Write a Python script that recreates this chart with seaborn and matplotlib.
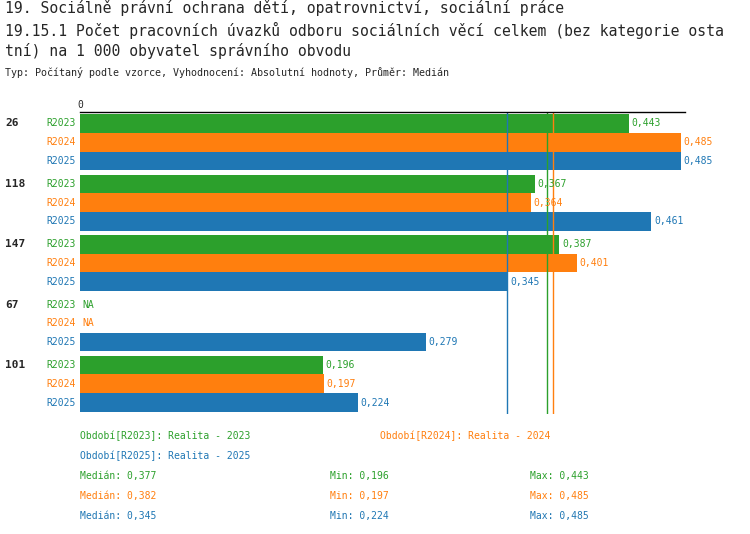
import numpy as np
import pandas as pd
import seaborn as sns
import matplotlib
matplotlib.use('Agg')
import matplotlib.pyplot as plt

groups = ['26', '118', '147', '67', '101']
periods = ['R2023', 'R2024', 'R2025']
v2023 = [0.443, 0.367, 0.387, np.nan, 0.196]
v2024 = [0.485, 0.364, 0.401, np.nan, 0.197]
v2025 = [0.485, 0.461, 0.345, 0.279, 0.224]
medians = [0.377, 0.382, 0.345]
mins = [0.196, 0.197, 0.224]
maxs = [0.443, 0.485, 0.485]
colors = ['#2ca02c', '#ff7f0e', '#1f77b4']

rows = []
for i, g in enumerate(groups):
    for p, vals in zip(periods, [v2023, v2024, v2025]):
        rows.append({'group': g, 'period': p, 'value': vals[i]})
df = pd.DataFrame(rows)

sns.set_style('white')
plt.rcParams['font.family'] = ['DejaVu Sans Mono']

fig = plt.figure(figsize=(7.5, 5.34), dpi=100)
ax = fig.add_axes([80 / 750, 1 - 414 / 534, 605 / 750, 302 / 534])
sns.barplot(data=df, y='group', x='value', hue='period', order=groups,
            hue_order=periods, palette=colors, orient='h', dodge=True,
            width=0.93, saturation=1, linewidth=0, legend=False, ax=ax)
ax.set_xlim(0, 605 / 1239)
ax.set_ylim(4.5, -0.5)
ax.set_xlabel('')
ax.set_ylabel('')
ax.set_xticks([])
ax.set_yticks([])
for s in ['left', 'right', 'bottom']:
    ax.spines[s].set_visible(False)
ax.spines['top'].set_color('black')
ax.spines['top'].set_linewidth(1)
ax.text(0, 1.005, '0', transform=ax.transAxes, fontsize=7, ha='center', va='bottom')

for m, c in zip(medians, colors):
    ax.axvline(m, color=c, lw=1)

offs = [-0.31, 0.0, 0.31]
for i, g in enumerate(groups):
    ax.annotate(g, xy=(0, i + offs[0]), xycoords=('axes fraction', 'data'),
                xytext=(-54, 0), textcoords='offset points', fontsize=8,
                fontweight='bold', ha='left', va='center')
    for j, (p, vals) in enumerate(zip(periods, [v2023, v2024, v2025])):
        y = i + offs[j]
        ax.annotate(p, xy=(0, y), xycoords=('axes fraction', 'data'),
                    xytext=(-24.5, 0), textcoords='offset points', fontsize=7,
                    color=colors[j], ha='left', va='center')
        v = vals[i]
        label = 'NA' if np.isnan(v) else f'{v:.3f}'.replace('.', ',')
        ax.annotate(label, xy=(0 if np.isnan(v) else v, y), xycoords='data',
                    xytext=(2, 0), textcoords='offset points', fontsize=7,
                    color=colors[j], ha='left', va='center')

fig.text(5 / 750, 1 - 8 / 534, '19. Sociálně právní ochrana dětí, opatrovnictví, sociální práce',
         fontsize=10.6, va='center')
fig.text(5 / 750, 1 - 30 / 534, '19.15.1 Počet pracovních úvazků odboru sociálních věcí celkem (bez kategorie osta',
         fontsize=10.6, va='center')
fig.text(5 / 750, 1 - 51 / 534, 'tní) na 1 000 obyvatel správního obvodu', fontsize=10.6, va='center')
fig.text(5 / 750, 1 - 73 / 534, 'Typ: Počítaný podle vzorce, Vyhodnocení: Absolutní hodnoty, Průměr: Medián',
         fontsize=7.2, va='center')

fig.text(80 / 750, 1 - 436 / 534, 'Období[R2023]: Realita - 2023', fontsize=7, color=colors[0], va='center')
fig.text(380 / 750, 1 - 436 / 534, 'Období[R2024]: Realita - 2024', fontsize=7, color=colors[1], va='center')
fig.text(80 / 750, 1 - 456 / 534, 'Období[R2025]: Realita - 2025', fontsize=7, color=colors[2], va='center')
f = lambda v: f'{v:.3f}'.replace('.', ',')
for k in range(3):
    y = 1 - (476 + 20 * k) / 534
    fig.text(80 / 750, y, 'Medián: ' + f(medians[k]), fontsize=7, color=colors[k], va='center')
    fig.text(330 / 750, y, 'Min: ' + f(mins[k]), fontsize=7, color=colors[k], va='center')
    fig.text(530 / 750, y, 'Max: ' + f(maxs[k]), fontsize=7, color=colors[k], va='center')

fig.savefig('out.png', dpi=100)
